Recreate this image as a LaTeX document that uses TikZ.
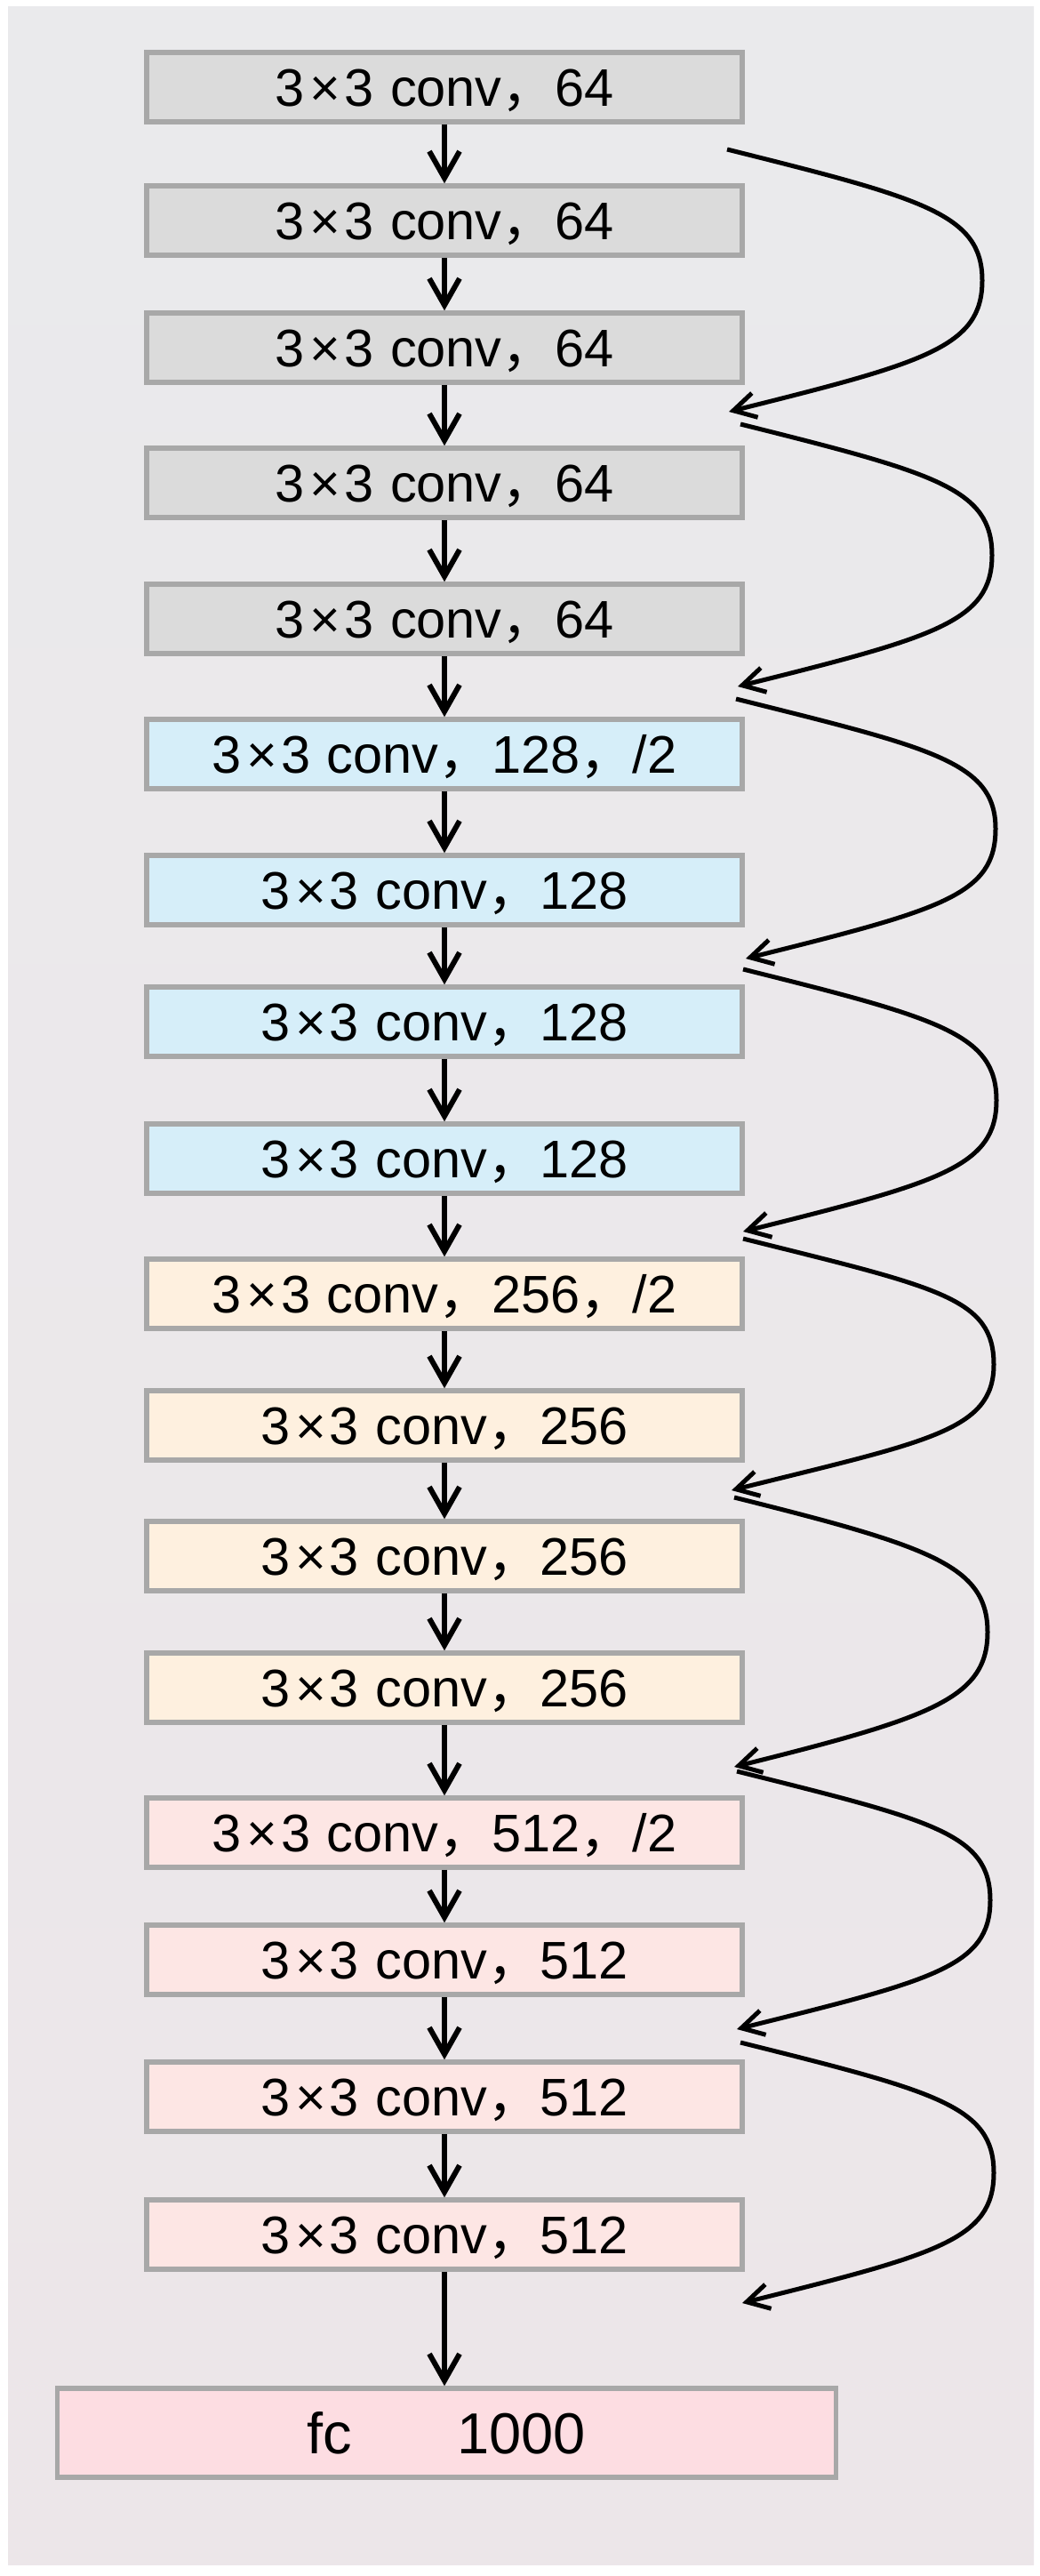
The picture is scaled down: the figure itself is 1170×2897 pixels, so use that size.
\documentclass[tikz,border=0pt]{standalone}
\usepackage{fontspec}
\setmainfont{Liberation Sans}
\newfontfamily\cjk{Noto Sans CJK SC}
\usetikzlibrary{arrows.meta,calc}
\definecolor{bgtop}{HTML}{EAEAEC}
\definecolor{bgbot}{HTML}{ECE6E9}
\definecolor{bord}{HTML}{A8A8A8}
\definecolor{fgray}{HTML}{DBDBDB}
\definecolor{fblue}{HTML}{D6EEF9}
\definecolor{forange}{HTML}{FEF0DF}
\definecolor{fpink}{HTML}{FDE6E4}
\definecolor{ffc}{HTML}{FDDDE2}
\newcommand\cc{{\cjk ，}}
\newcommand\kxk{3\kern6pt×\kern4pt3\kern2pt}
\begin{document}
\begin{tikzpicture}[x=1pt,y=-1pt,
  layer/.style={draw=bord, line width=5.5pt, minimum width=670pt, minimum height=78pt,
    inner sep=0pt, text height=43pt, text depth=0pt, font=\fontsize{59.5}{70}\selectfont},
  flow/.style={-{Straight Barb[length=30pt,width=34pt]}, line width=6pt},
  skip/.style={-{Straight Barb[length=25pt,width=28pt]}, line width=5pt}]
\useasboundingbox (0,0) rectangle (1170,2897);
\fill[white] (0,0) rectangle (1170,2897);
\shade[top color=bgtop, bottom color=bgbot] (9,7) rectangle (1163,2884);

\node[layer, fill=fgray]   (b1)  at (500,98)   {\kxk{} conv\cc 64};
\node[layer, fill=fgray]   (b2)  at (500,248)  {\kxk{} conv\cc 64};
\node[layer, fill=fgray]   (b3)  at (500,391)  {\kxk{} conv\cc 64};
\node[layer, fill=fgray]   (b4)  at (500,543)  {\kxk{} conv\cc 64};
\node[layer, fill=fgray]   (b5)  at (500,696)  {\kxk{} conv\cc 64};
\node[layer, fill=fblue]   (b6)  at (500,848)  {\kxk{} conv\cc 128\cc /2};
\node[layer, fill=fblue]   (b7)  at (500,1001) {\kxk{} conv\cc 128};
\node[layer, fill=fblue]   (b8)  at (500,1149) {\kxk{} conv\cc 128};
\node[layer, fill=fblue]   (b9)  at (500,1303) {\kxk{} conv\cc 128};
\node[layer, fill=forange] (b10) at (500,1455) {\kxk{} conv\cc 256\cc /2};
\node[layer, fill=forange] (b11) at (500,1603) {\kxk{} conv\cc 256};
\node[layer, fill=forange] (b12) at (500,1750) {\kxk{} conv\cc 256};
\node[layer, fill=forange] (b13) at (500,1898) {\kxk{} conv\cc 256};
\node[layer, fill=fpink]   (b14) at (500,2061) {\kxk{} conv\cc 512\cc /2};
\node[layer, fill=fpink]   (b15) at (500,2204) {\kxk{} conv\cc 512};
\node[layer, fill=fpink]   (b16) at (500,2358) {\kxk{} conv\cc 512};
\node[layer, fill=fpink]   (b17) at (500,2513) {\kxk{} conv\cc 512};
\node[layer, fill=ffc, minimum width=876pt, minimum height=100pt, text height=47pt,
  font=\fontsize{65}{78}\selectfont] (fc) at (502.5,2736) {fc\hspace{118pt}1000};

\foreach \a/\b in {b1/b2,b2/b3,b3/b4,b4/b5,b5/b6,b6/b7,b7/b8,b8/b9,b9/b10,
  b10/b11,b11/b12,b12/b13,b13/b14,b14/b15,b15/b16,b16/b17}
  \draw[flow] (\a.south) -- (\b.north);
\draw[flow] (b17.south) -- (b17.south |- fc.north);

\foreach \i/\sx/\sy/\ex/\ey/\px in {1/818/168/820/463/1105, 2/833/477/830/772/1116,
  3/828/786/839/1078/1120, 4/836/1090/836/1385/1121, 5/836/1393/823/1676/1118,
  6/826/1684/826/1987/1111, 7/829/1992/829/2282/1114, 8/833/2297/835/2590/1118}{
  \coordinate (s\i) at (\sx,\sy);
  \coordinate (e\i) at (\ex,\ey);
  \coordinate (p\i) at (\px,{(\sy+\ey)/2});
  \draw[skip] (s\i) .. controls +(220,55) and +(0,-75) .. (p\i)
              .. controls +(0,75) and +(220,-55) .. (e\i);
}
\end{tikzpicture}
\end{document}
